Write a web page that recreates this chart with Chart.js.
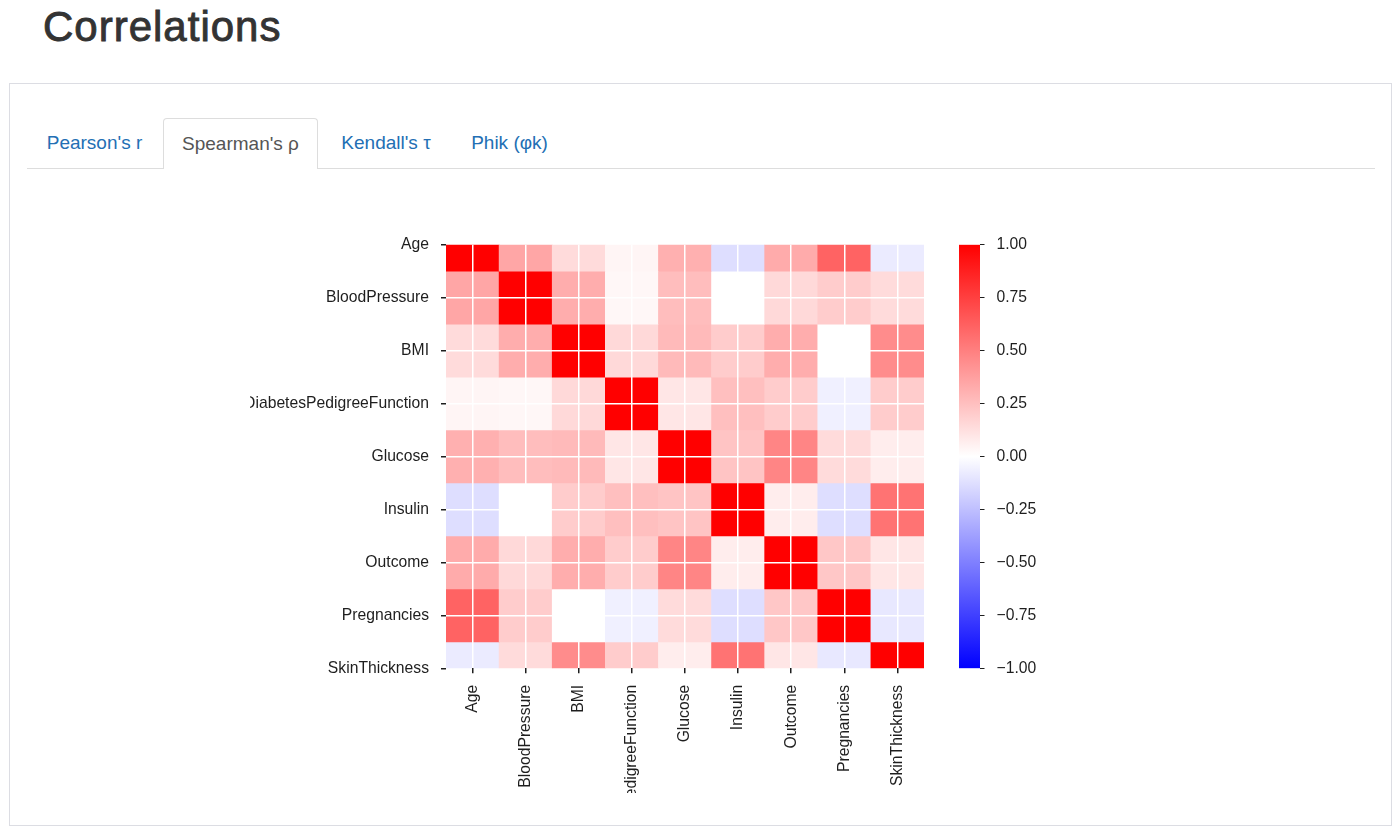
<!DOCTYPE html>
<html>
<head>
<meta charset="utf-8">
<title>Correlations</title>
<script src="https://cdn.jsdelivr.net/npm/chart.js@4.4.1/dist/chart.umd.min.js"></script>
<style>
  body {
    margin: 0;
    width: 1400px;
    height: 836px;
    position: relative;
    overflow: hidden;
    background: #fff;
    font-family: 'Liberation Sans', Arial, Helvetica, sans-serif;
  }
  h1 {
    position: absolute;
    left: 43px;
    top: 1px;
    margin: 0;
    font-size: 42px;
    line-height: 52px;
    font-weight: normal;
    letter-spacing: 1px;
    color: #333;
    -webkit-text-stroke: 0.9px #333;
  }
  .panel {
    position: absolute;
    left: 9px;
    top: 83px;
    width: 1381px;
    height: 741px;
    border: 1px solid #dcdde3;
  }
  .tabline {
    position: absolute;
    left: 27px;
    top: 168px;
    width: 1348px;
    height: 1px;
    background: #ddd;
  }
  .tab {
    position: absolute;
    top: 118px;
    height: 50px;
    line-height: 50px;
    font-size: 19px;
    text-align: center;
    color: #236fb4;
    box-sizing: border-box;
    white-space: nowrap;
  }
  .tab.active {
    height: 51px;
    line-height: 50px;
    color: #555;
    background: #fff;
    border: 1px solid #ddd;
    border-bottom: none;
    border-radius: 4px 4px 0 0;
  }
  #heatmap { position: absolute; left: 250px; top: 230px; }
  #colorbar { position: absolute; left: 940px; top: 230px; }
</style>
</head>
<body>
<h1>Correlations</h1>
<div class="panel"></div>
<div class="tabline"></div>
<div class="tab" style="left:28px;width:133px;">Pearson's r</div>
<div class="tab active" style="left:163px;width:155px;">Spearman's ρ</div>
<div class="tab" style="left:321px;width:130px;">Kendall's τ</div>
<div class="tab" style="left:453px;width:113px;">Phik (φk)</div>

<canvas id="heatmap" width="695" height="563"></canvas>
<canvas id="colorbar" width="130" height="450"></canvas>

<script>
// Variables, in the order of both axes
const variables = ['Age', 'BloodPressure', 'BMI', 'DiabetesPedigreeFunction', 'Glucose',
                   'Insulin', 'Outcome', 'Pregnancies', 'SkinThickness'];

// Spearman's rho, one row per variable
const rhoAge           = [ 1.00,  0.35,  0.14,  0.04,  0.31, -0.13,  0.33,  0.61, -0.08];
const rhoBloodPressure = [ 0.35,  1.00,  0.32,  0.03,  0.26,  0.00,  0.15,  0.20,  0.14];
const rhoBMI           = [ 0.14,  0.32,  1.00,  0.15,  0.27,  0.20,  0.32,  0.00,  0.45];
const rhoPedigree      = [ 0.04,  0.03,  0.15,  1.00,  0.10,  0.25,  0.20, -0.06,  0.20];
const rhoGlucose       = [ 0.31,  0.26,  0.27,  0.10,  1.00,  0.23,  0.48,  0.14,  0.07];
const rhoInsulin       = [-0.13,  0.00,  0.20,  0.25,  0.23,  1.00,  0.07, -0.13,  0.55];
const rhoOutcome       = [ 0.33,  0.15,  0.32,  0.20,  0.48,  0.07,  1.00,  0.22,  0.10];
const rhoPregnancies   = [ 0.61,  0.20,  0.00, -0.06,  0.14, -0.13,  0.22,  1.00, -0.09];
const rhoSkinThickness = [-0.08,  0.14,  0.45,  0.20,  0.07,  0.55,  0.10, -0.09,  1.00];

const matrix = [rhoAge, rhoBloodPressure, rhoBMI, rhoPedigree, rhoGlucose,
                rhoInsulin, rhoOutcome, rhoPregnancies, rhoSkinThickness];

// Colour scale range and colorbar tick step
const colorRange = [-1, 1];
const colorStep = 0.25;

const TEXT = '#1e1e1e';
const FONT = { family: "'Liberation Sans', Arial, Helvetica, sans-serif", size: 15.7 };

// matplotlib 'bwr' colormap: blue -> white -> red
function bwr(v) {
    const t = Math.max(-1, Math.min(1, v));
    if (t >= 0) {
        const g = Math.round(255 * (1 - t));
        return `rgb(255,${g},${g})`;
    }
    const g = Math.round(255 * (1 + t));
    return `rgb(${g},${g},255)`;
}

// Drop the label overhang padding so layout.padding alone places the plot area
function noLabelPadding(scale) {
    scale.paddingTop = 0;
    scale.paddingBottom = 0;
}

Chart.defaults.font.family = FONT.family;
Chart.defaults.animation = false;

// One floating-bar dataset per row, each bar spans one row of the value axis
const heatDatasets = matrix.map((row, r) => ({
    label: variables[r],
    data: row.map(() => [r - 0.5, r + 0.5]),
    backgroundColor: row.map(bwr),
    borderWidth: 0,
    barPercentage: 1,
    categoryPercentage: 1,
    grouped: false,
    clip: 0
}));

const lastRow = variables.length - 1;

new Chart(document.getElementById('heatmap'), {
    type: 'bar',
    data: { labels: variables, datasets: heatDatasets },
    options: {
        responsive: false,
        layout: { padding: { left: 0, top: 14.7, right: 21, bottom: 0 } },
        plugins: { legend: { display: false }, tooltip: { enabled: false } },
        scales: {
            x: {
                type: 'category',
                offset: true,
                border: { display: false },
                grid: {
                    offset: false,
                    z: 1,
                    color: '#fff',
                    lineWidth: 1.5,
                    tickColor: TEXT,
                    tickLength: 5
                },
                ticks: {
                    color: TEXT,
                    font: FONT,
                    minRotation: 90,
                    maxRotation: 90,
                    autoSkip: false,
                    padding: 11.5
                },
                afterFit: (scale) => { scale.height = 124.7; }
            },
            y: {
                type: 'linear',
                reverse: true,
                min: 0,
                max: lastRow,
                border: { display: false },
                grid: {
                    z: 1,
                    // no white line along the top and bottom edges
                    color: (ctx) => (ctx.index === 0 || ctx.index === lastRow) ? 'rgba(255,255,255,0)' : '#fff',
                    lineWidth: 1.5,
                    tickColor: TEXT,
                    tickLength: 5
                },
                ticks: {
                    stepSize: 1,
                    autoSkip: false,
                    color: TEXT,
                    font: FONT,
                    padding: 12,
                    callback: (v) => variables[v]
                },
                afterFit: (scale) => {
                    scale.width = 196;
                    noLabelPadding(scale);
                }
            }
        }
    }
});

// Colorbar: a single floating bar over the full colour range with a gradient fill
new Chart(document.getElementById('colorbar'), {
    type: 'bar',
    data: {
        labels: [''],
        datasets: [{
            data: [colorRange],
            borderWidth: 0,
            barPercentage: 1,
            categoryPercentage: 1,
            backgroundColor: (ctx) => {
                const chart = ctx.chart;
                const y = chart.scales.y;
                if (!chart.chartArea || !y) return bwr(0);
                const top = y.getPixelForValue(colorRange[1]);
                const bottom = y.getPixelForValue(colorRange[0]);
                const g = chart.ctx.createLinearGradient(0, top, 0, bottom);
                g.addColorStop(0, bwr(1));
                g.addColorStop(0.5, bwr(0));
                g.addColorStop(1, bwr(-1));
                return g;
            }
        }]
    },
    options: {
        responsive: false,
        layout: { padding: { left: 19, top: 14.7, right: 0, bottom: 11.7 } },
        plugins: { legend: { display: false }, tooltip: { enabled: false } },
        scales: {
            x: { display: false, offset: true },
            y: {
                position: 'right',
                min: colorRange[0],
                max: colorRange[1],
                border: { display: false },
                grid: {
                    drawOnChartArea: false,
                    tickColor: TEXT,
                    tickLength: 4.5
                },
                ticks: {
                    stepSize: colorStep,
                    color: TEXT,
                    font: FONT,
                    padding: 12,
                    callback: (v) => (v < 0 ? '\u2212' : '') + Math.abs(v).toFixed(2)
                },
                afterFit: (scale) => {
                    scale.width = 90;
                    noLabelPadding(scale);
                }
            }
        }
    }
});
</script>
</body>
</html>
